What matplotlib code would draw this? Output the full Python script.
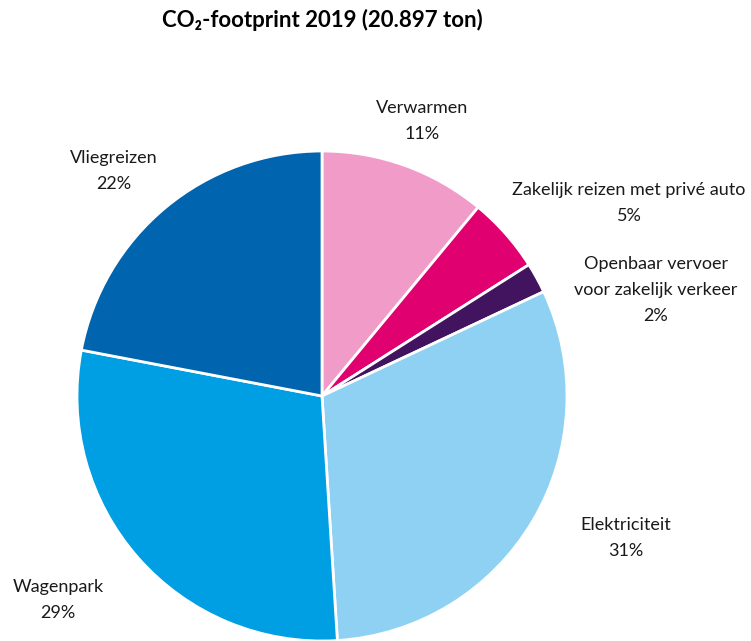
import matplotlib
matplotlib.use("Agg")
import matplotlib.pyplot as plt

categories = ["Verwarmen", "Zakelijk reizen met privé auto",
              "Openbaar vervoer\nvoor zakelijk verkeer", "Elektriciteit",
              "Wagenpark", "Vliegreizen"]
values = [11, 5, 2, 31, 29, 22]
colors = ["#f19cc8", "#e0006f", "#42145f", "#8fd1f3", "#009fe3", "#0065ae"]
title = "CO₂-footprint 2019 (20.897 ton)"

W, H = 751, 641
fig = plt.figure(figsize=(W / 100, H / 100), dpi=100)
ax = fig.add_axes([0, 0, 1, 1])

cx, cy, r = 322, H - 396, 245
ax.pie(values, colors=colors, startangle=90, counterclock=False,
       center=(cx, cy), radius=r,
       wedgeprops=dict(edgecolor="white", linewidth=2))
ax.set_xlim(0, W)
ax.set_ylim(0, H)
ax.set_aspect("equal")
ax.axis("off")

fam = ["Lato", "DejaVu Sans"]
label_pos = [(422, 108), (629, 190), (656, 264), (626, 525), (58, 587), (114, 158)]
lh = 26
for cat, val, (x, y) in zip(categories, values, label_pos):
    lines = cat.split("\n") + [f"{val}%"]
    for i, line in enumerate(lines):
        ax.text(x, H - (y + i * lh), line, ha="center", va="center",
                fontsize=13, family=fam, color="#1a1a1a")

ax.text(322, H - 20, title, ha="center", va="center", fontsize=16,
        fontweight="bold", family=fam, color="#000000")

fig.savefig("out.png", dpi=100)
